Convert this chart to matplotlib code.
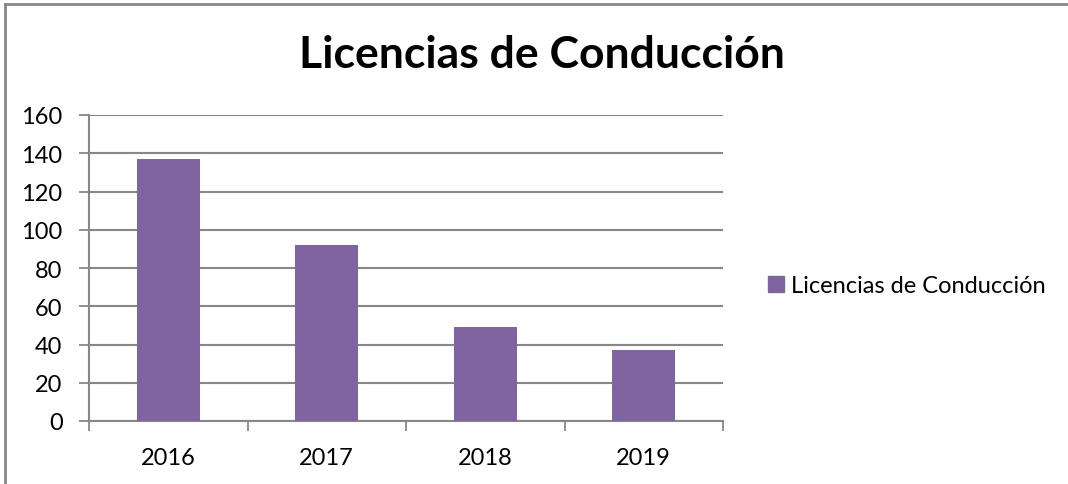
import matplotlib.pyplot as plt
import numpy as np
from matplotlib.lines import Line2D

years = ['2016', '2017', '2018', '2019']
licencias = [137, 92, 49, 37]
title = 'Licencias de Conducción'
barColor = '#8064A2'
gridColor = '#878787'

plt.rcParams['font.family'] = ['Lato', 'DejaVu Sans']

fig = plt.figure(figsize=(10.68, 4.85), dpi=100)
ax = fig.add_axes([89/1068, 1-422/485, (723-89)/1068, (422-116)/485])

x = np.arange(len(years))
ax.bar(x, licencias, width=0.4, color=barColor, label=title, zorder=3)

ax.set_xlim(-0.5, len(years)-0.5)
ax.set_ylim(0, 160)
ax.set_yticks(range(0, 161, 20))
ax.set_xticks(x)
ax.set_xticklabels(years)
ax.set_xticks(np.arange(-0.5, len(years), 1), minor=True)
ax.tick_params(axis='x', which='major', length=0, pad=19, labelsize=17)
ax.tick_params(axis='x', which='minor', length=7, width=1.3, color=gridColor, direction='out')
ax.tick_params(axis='y', length=7, width=1.3, color=gridColor, labelsize=17, pad=12)

ax.grid(axis='y', color=gridColor, linewidth=1.5, zorder=0)
for s in ['top', 'right']:
    ax.spines[s].set_visible(False)
for s in ['left', 'bottom']:
    ax.spines[s].set_color(gridColor)
    ax.spines[s].set_linewidth(1.5)

fig.text(542/1068, 1-55/485, title, ha='center', va='center', fontsize=32, fontweight='bold')

handle = Line2D([], [], marker='s', linestyle='none', markersize=11, color=barColor)
fig.legend([handle], [title], loc='center left', bbox_to_anchor=(752/1068, 1-287/485),
           frameon=False, fontsize=17, handletextpad=0.05, handlelength=1.2, borderaxespad=0)

# chart border (top and left)
fig.add_artist(Line2D([5.5/1068, 1.01], [1-4.5/485, 1-4.5/485], color='#888888', linewidth=2))
fig.add_artist(Line2D([5.5/1068, 5.5/1068], [-0.01, 1-4.5/485], color='#888888', linewidth=2))

fig.savefig('out.png', dpi=100)
